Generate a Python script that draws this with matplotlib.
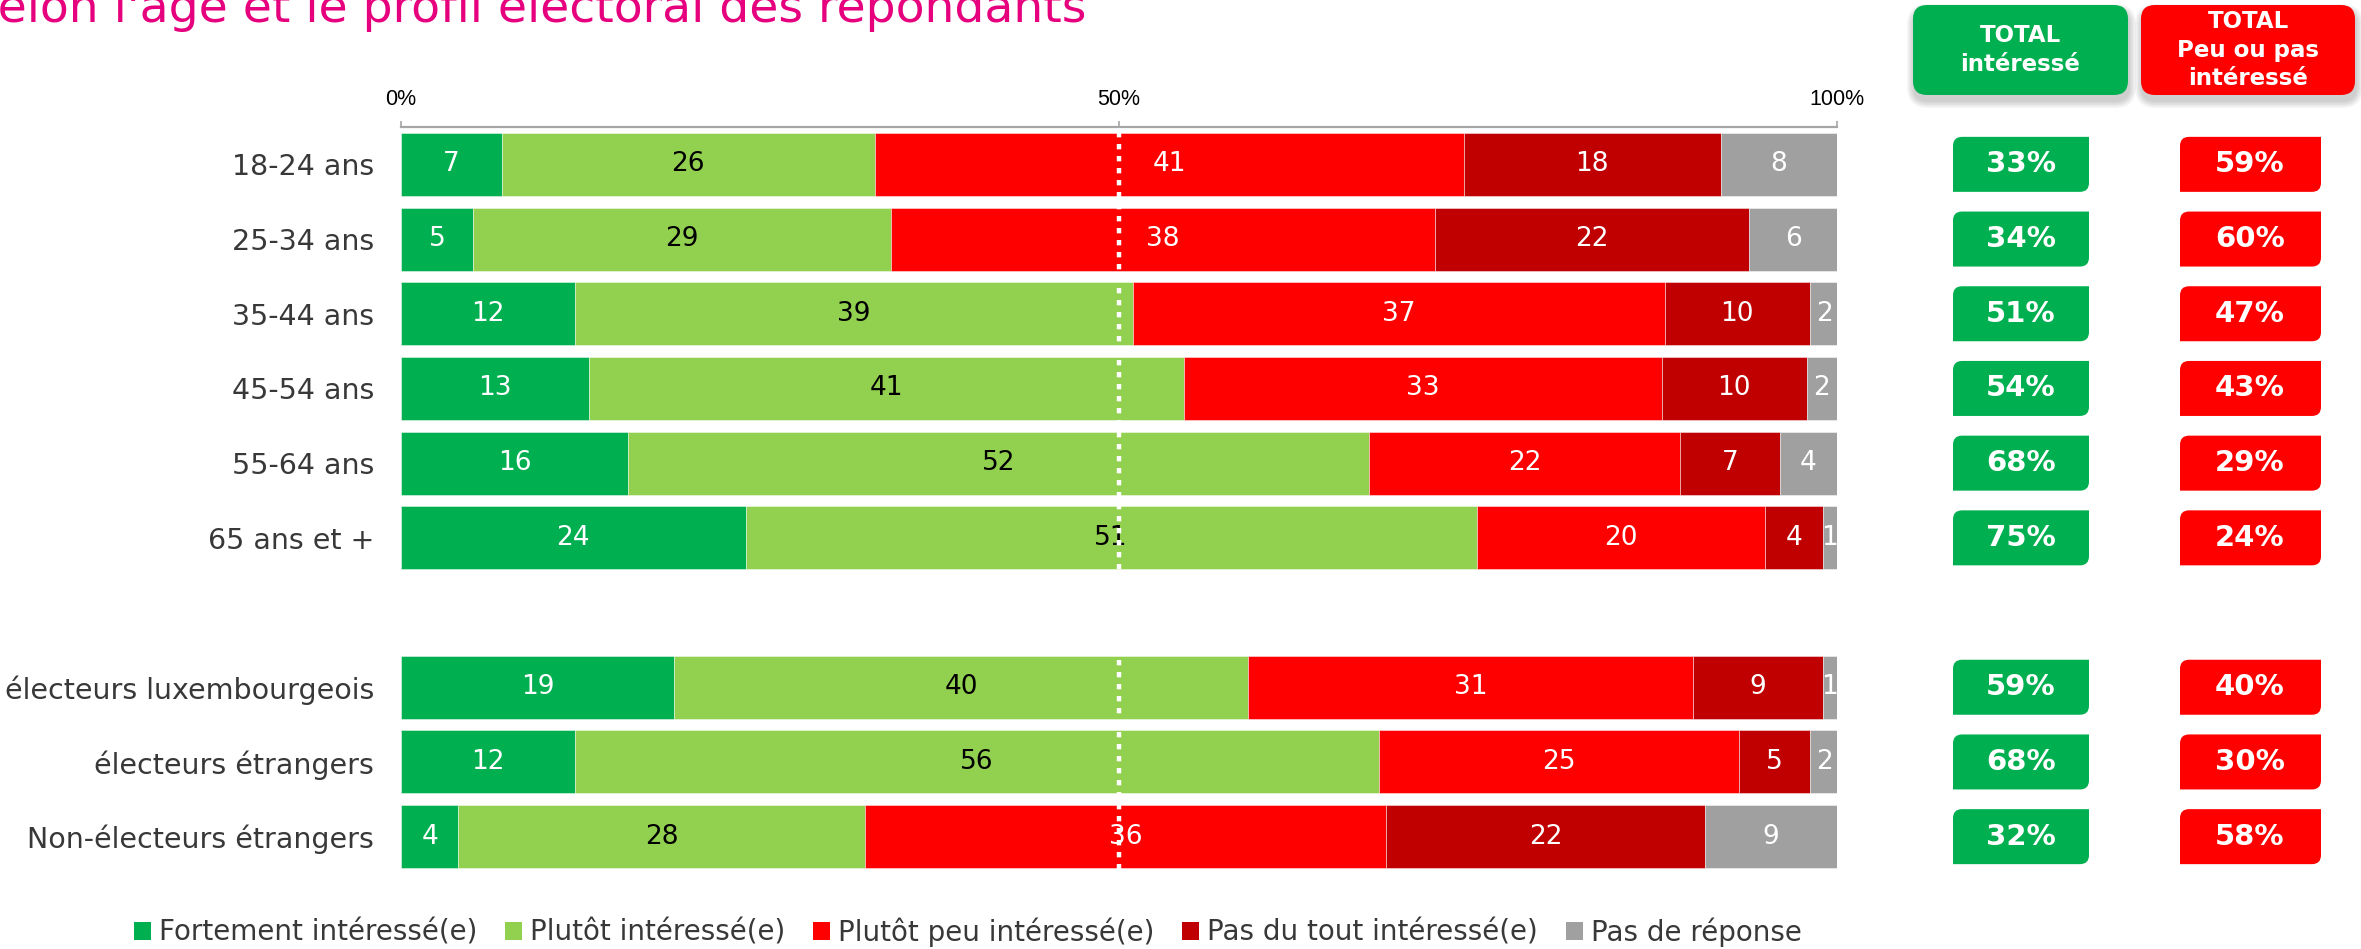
import matplotlib
matplotlib.use("Agg")
import matplotlib.pyplot as plt
from matplotlib.path import Path
from matplotlib.patches import PathPatch, Patch

# ---------------- data ----------------
categories = ["18-24 ans", "25-34 ans", "35-44 ans", "45-54 ans", "55-64 ans",
              "65 ans et +", "électeurs luxembourgeois", "électeurs étrangers",
              "Non-électeurs étrangers"]
series_names = ["Fortement intéressé(e)", "Plutôt intéressé(e)",
                "Plutôt peu intéressé(e)", "Pas du tout intéressé(e)", "Pas de réponse"]
fortement = [7.0, 5.0, 12.1, 13.1, 15.8, 24.0, 19.0, 12.1, 4.0]
plutot = [26.0, 29.1, 38.9, 41.4, 51.6, 50.9, 40.0, 56.0, 28.3]
plutot_peu = [41.0, 37.9, 37.0, 33.3, 21.7, 20.1, 31.0, 25.1, 36.3]
pas_du_tout = [17.9, 21.9, 10.1, 10.1, 6.9, 4.0, 9.0, 4.9, 22.2]
pas_de_reponse = [8.1, 6.1, 2.0, 2.1, 4.0, 1.0, 1.0, 2.0, 9.2]
total_interesse = [33, 34, 51, 54, 68, 75, 59, 68, 32]
total_peu = [59, 60, 47, 43, 29, 24, 40, 30, 58]
x_ticks = [0, 50, 100]
x_tick_labels = ["0%", "50%", "100%"]
title = "selon l'âge et le profil électoral des répondants"

# ---------------- style ----------------
colors = ["#00B050", "#92D050", "#FF0000", "#C00000", "#A0A0A0"]
text_colors = ["white", "black", "white", "white", "white"]
W, H = 2361, 949
rows = [0, 1, 2, 3, 4, 5, 7, 8, 9]

fig = plt.figure(figsize=(W / 100, H / 100), dpi=100)
ax = fig.add_axes([401 / W, 1 - 874 / H, 1436 / W, 747 / H])
ax.set_xlim(0, 100)
ax.set_ylim(9.5, -0.5)

series = [fortement, plutot, plutot_peu, pas_du_tout, pas_de_reponse]
left = [0.0] * len(categories)
for s, vals in enumerate(series):
    ax.barh(rows, vals, left=left, height=0.843, color=colors[s],
            edgecolor=(1, 1, 1, 0.45), linewidth=0.7, zorder=2)
    for r, v, l in zip(rows, vals, left):
        ax.text(l + v / 2, r, f"{v:.0f}", ha="center", va="center",
                fontsize=19, color=text_colors[s], zorder=4)
    left = [a + b for a, b in zip(left, vals)]

# dotted 50% line
ax.vlines(50, -0.43, 9.43, colors="white", linewidth=3.2,
          linestyles=(0, (1.2, 1.5)), zorder=6)

# axes cosmetics
for side in ["left", "right", "bottom"]:
    ax.spines[side].set_visible(False)
ax.spines["top"].set_color("#A6A6A6")
ax.spines["top"].set_linewidth(1.6)
ax.xaxis.tick_top()
ax.set_xticks(x_ticks)
ax.set_xticklabels(x_tick_labels, fontsize=15.5, family="Liberation Sans")
ax.tick_params(axis="x", length=4.5, width=1.2, color="#A6A6A6", pad=8)
ax.set_yticks(rows)
ax.set_yticklabels(categories, fontsize=20.5, color="#383838")
ax.tick_params(axis="y", length=0, pad=19.5)


# ---------------- right-hand boxes ----------------
def rounded_path(x0, y0, x1, y1, r_tl, r_tr, r_br, r_bl):
    verts = [(x0 + r_bl, y0), (x1 - r_br, y0), (x1, y0), (x1, y0 + r_br),
             (x1, y1 - r_tr), (x1, y1), (x1 - r_tr, y1),
             (x0 + r_tl, y1), (x0, y1), (x0, y1 - r_tl),
             (x0, y0 + r_bl), (x0, y0), (x0 + r_bl, y0), (x0 + r_bl, y0)]
    codes = [Path.MOVETO, Path.LINETO, Path.CURVE3, Path.CURVE3,
             Path.LINETO, Path.CURVE3, Path.CURVE3,
             Path.LINETO, Path.CURVE3, Path.CURVE3,
             Path.LINETO, Path.CURVE3, Path.CURVE3, Path.CLOSEPOLY]
    verts = [(vx / W, vy / H) for vx, vy in verts]
    return Path(verts, codes)


def add_box(x0, y0, x1, y1, radii, color, **kw):
    p = PathPatch(rounded_path(x0, y0, x1, y1, *radii), facecolor=color,
                  edgecolor="none", transform=fig.transFigure, **kw)
    fig.add_artist(p)


box_h = 55
for r, ti, tp in zip(rows, total_interesse, total_peu):
    yc = ax.transData.transform((0, r))[1]
    y0, y1 = yc - box_h / 2, yc + box_h / 2
    add_box(1953, y0, 2089, y1, (9, 0, 9, 0), "#00B050")
    add_box(2180, y0, 2321, y1, (9, 0, 9, 0), "#FF0000")
    fig.text(2021 / W, yc / H, f"{ti}%", ha="center", va="center",
             fontsize=21, fontweight="bold", color="white")
    fig.text(2250 / W, yc / H, f"{tp}%", ha="center", va="center",
             fontsize=21, fontweight="bold", color="white")

# header boxes with soft shadow
headers = [(1913, 2128, "#00B050", "TOTAL\nintéressé"),
           (2141, 2355, "#FF0000", "TOTAL\nPeu ou pas\nintéressé")]
hy0, hy1 = H - 95, H - 5
for x0, x1, col, label in headers:
    for k in range(5):
        e = 1 + k * 1.5
        add_box(x0 - e + 1, hy0 - 6 - e, x1 + e + 1, hy1 - 6 + e,
                (14 + e,) * 4, (0, 0, 0, 0.04))
    add_box(x0, hy0, x1, hy1, (14, 14, 14, 14), col)
    fig.text((x0 + x1) / 2 / W, (hy0 + hy1) / 2 / H, label, ha="center",
             va="center", fontsize=16.5, fontweight="bold", color="white",
             linespacing=1.3)

# title (cut off at the left edge, as in the reference)
fig.text(1086 / W, 1 - 22 / H, title, ha="right", va="baseline",
         fontsize=34, color="#E6007E")

# legend
handles = [Patch(facecolor=c, edgecolor="none") for c in colors]
leg = fig.legend(handles, series_names, loc="center",
                 bbox_to_anchor=(968 / W, 1 - 932 / H), ncol=5, frameon=False,
                 fontsize=20, handlelength=0.6, handleheight=0.6,
                 handletextpad=0.3, columnspacing=1.0, borderaxespad=0)
for t in leg.get_texts():
    t.set_color("#383838")

fig.savefig("out.png", dpi=100)
